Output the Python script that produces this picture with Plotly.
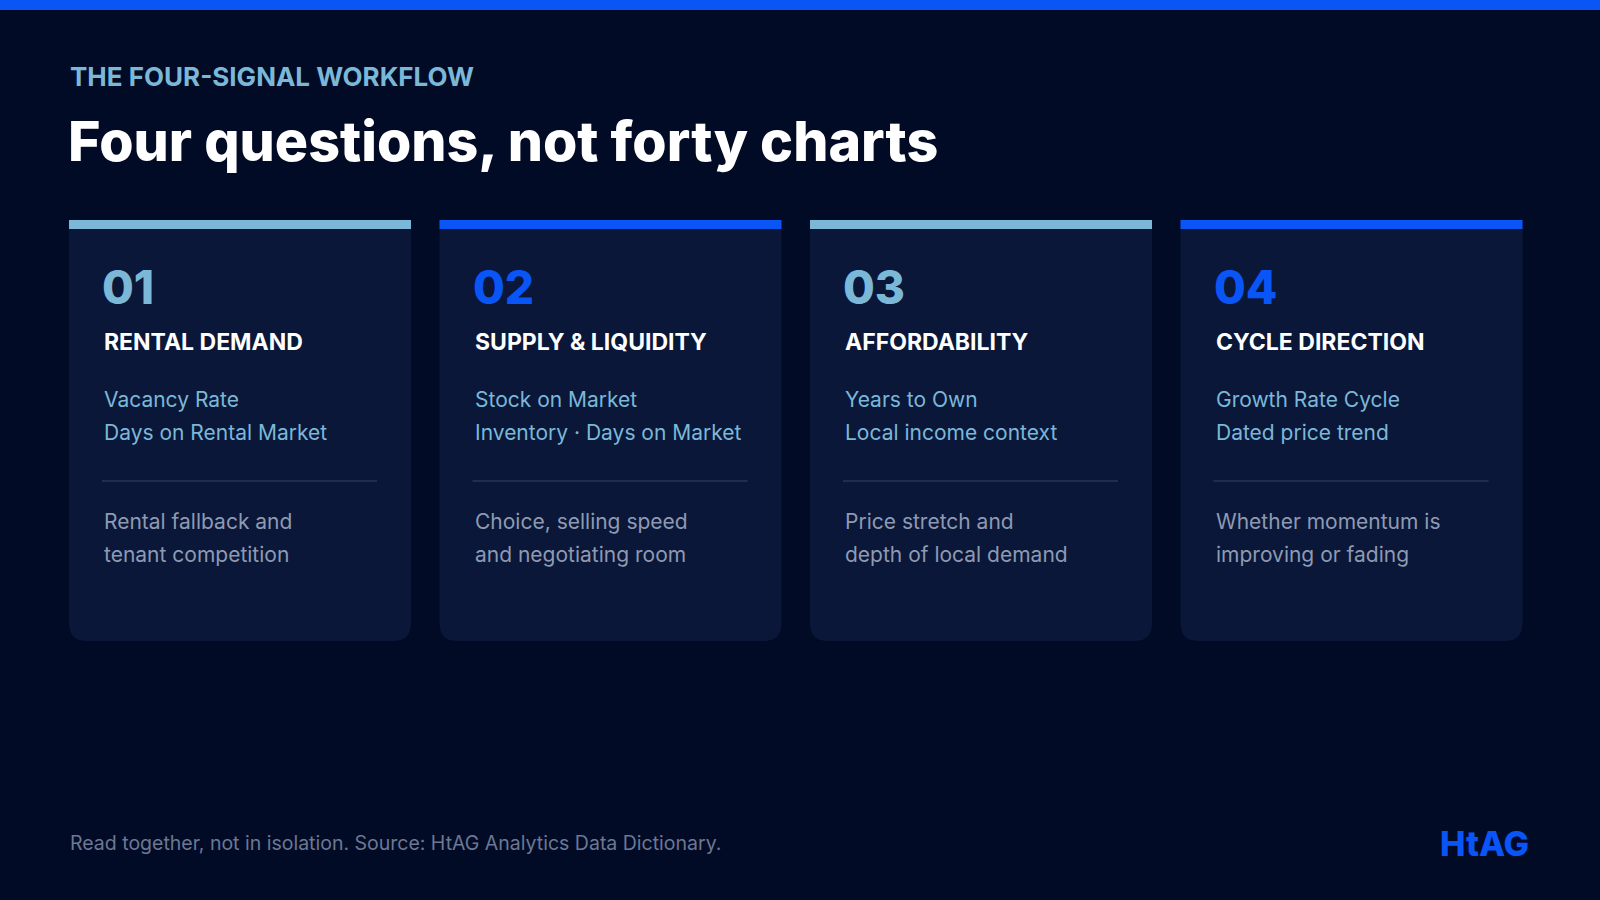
import plotly.graph_objects as go

numbers = ["01", "02", "03", "04"]
headings = ["RENTAL DEMAND", "SUPPLY & LIQUIDITY", "AFFORDABILITY", "CYCLE DIRECTION"]
metrics = [
    ["Vacancy Rate", "Days on Rental Market"],
    ["Stock on Market", "Inventory · Days on Market"],
    ["Years to Own", "Local income context"],
    ["Growth Rate Cycle", "Dated price trend"],
]
descriptions = [
    ["Rental fallback and", "tenant competition"],
    ["Choice, selling speed", "and negotiating room"],
    ["Price stretch and", "depth of local demand"],
    ["Whether momentum is", "improving or fading"],
]
accents = ["#7BB8D8", "#0A55F5", "#7BB8D8", "#0A55F5"]

BG = "#020B26"
CARD = "#0A1738"
FONT = "Inter"

fig = go.Figure()
shapes = []
ann = []

def text(x, y, s, size, color, weight="normal", anchor="left"):
    ann.append(dict(x=x, y=y, text=s, showarrow=False, xanchor=anchor, yanchor="middle",
                    font=dict(family=FONT, size=size, color=color, weight=weight)))

# top strip
shapes.append(dict(type="rect", x0=0, x1=1600, y0=0, y1=10, fillcolor="#0A55F5", line_width=0))

text(68, 76, "THE FOUR-SIGNAL WORKFLOW", 26, "#7BB8D8", "bold")
text(66, 140, "Four questions, not forty charts", 55.5, "#FFFFFF", 800)

card_w, gap, x_start = 342, 28.5, 69
top, bottom, r = 220, 641, 18
for i in range(4):
    x0 = x_start + i * (card_w + gap)
    x1 = x0 + card_w
    path = (f"M {x0},{top} L {x1},{top} L {x1},{bottom - r} Q {x1},{bottom} {x1 - r},{bottom} "
            f"L {x0 + r},{bottom} Q {x0},{bottom} {x0},{bottom - r} Z")
    shapes.append(dict(type="path", path=path, fillcolor=CARD, line_width=0))
    shapes.append(dict(type="rect", x0=x0, x1=x1, y0=top, y1=top + 9, fillcolor=accents[i], line_width=0))
    tx = x0 + 33
    text(tx - 2, 287, numbers[i], 46, accents[i], 800)
    text(tx, 342, headings[i], 23, "#FFFFFF", "bold")
    text(tx, 399, metrics[i][0], 21, "#7BB8D8")
    text(tx, 432, metrics[i][1], 21, "#7BB8D8")
    shapes.append(dict(type="line", x0=tx, x1=x1 - 34, y0=481, y1=481, line=dict(color="#2A3656", width=1.5)))
    text(tx, 521, descriptions[i][0], 21, "#8E9AB3")
    text(tx, 554, descriptions[i][1], 21, "#8E9AB3")

text(68, 843, "Read together, not in isolation. Source: HtAG Analytics Data Dictionary.", 19.5, "#6C7893")
text(1531, 843, "HtAG", 34, "#0A55F5", 800, "right")

fig.update_layout(
    width=1600, height=900, margin=dict(l=0, r=0, t=0, b=0),
    paper_bgcolor=BG, plot_bgcolor=BG, showlegend=False,
    xaxis=dict(range=[0, 1600], visible=False, fixedrange=True),
    yaxis=dict(range=[900, 0], visible=False, fixedrange=True),
    shapes=shapes, annotations=ann,
)
fig.write_html(
    "out.html",
    config={"displayModeBar": False},
    post_script="document.body.style.margin='0';document.body.style.background='" + BG + "';",
)
